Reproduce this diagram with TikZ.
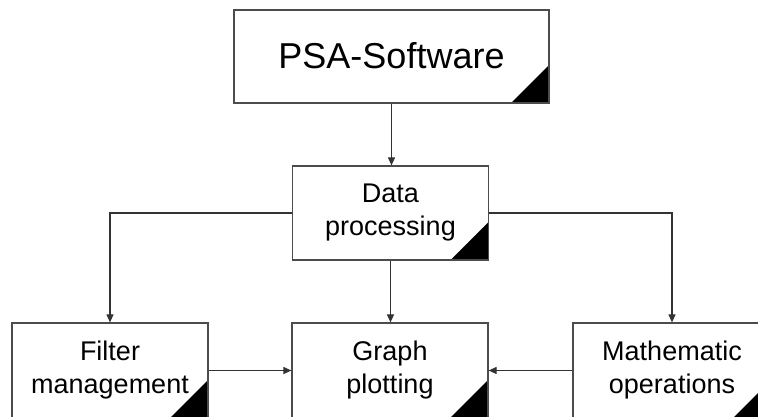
\documentclass[tikz,border=0pt]{standalone}
\usepackage{fontspec}
\setmainfont{Liberation Sans}
\usetikzlibrary{arrows.meta}
\begin{document}
\begin{tikzpicture}[x=1pt,y=-1pt,
  boxnode/.style={draw=black!70,line width=1.2pt,fill=white,rectangle,inner sep=0pt,
    minimum width=196pt,minimum height=95pt,align=center,
    font=\fontsize{27}{33}\selectfont,
    path picture={\fill[black] (path picture bounding box.south east) -- ++(-38pt,0pt) -- ++(38pt,38pt) -- cycle;}},
  conn/.style={draw=black!80,line width=1.1pt},
  arr/.style={conn,-{Triangle[length=8pt,width=7pt]}}]
\useasboundingbox (0,0) rectangle (758,416);
\clip (0,0) rectangle (758,416);
\node[boxnode,minimum width=315pt,minimum height=93pt,font=\fontsize{36}{40}\selectfont] (psa) at (391.5,56.5) {\raisebox{2.5pt}{PSA-Software}};
\node[boxnode,minimum height=94pt] (data) at (390.5,213) {Data\\processing};
\node[boxnode] (filter) at (110,370.5) {Filter\\management};
\node[boxnode] (graph) at (390,370.5) {Graph\\plotting};
\node[boxnode,minimum width=198pt] (math) at (672,370.5) {Mathematic\\operations};
\draw[arr] (psa.south) -- (psa.south |- data.north);
\draw[arr] (data.west) -| (filter.north);
\draw[arr] (data.east) -| (math.north);
\draw[arr] (data.south) -- (data.south |- graph.north);
\draw[arr] (filter.east) -- (graph.west);
\draw[arr] (math.west) -- (graph.east);
\end{tikzpicture}
\end{document}
